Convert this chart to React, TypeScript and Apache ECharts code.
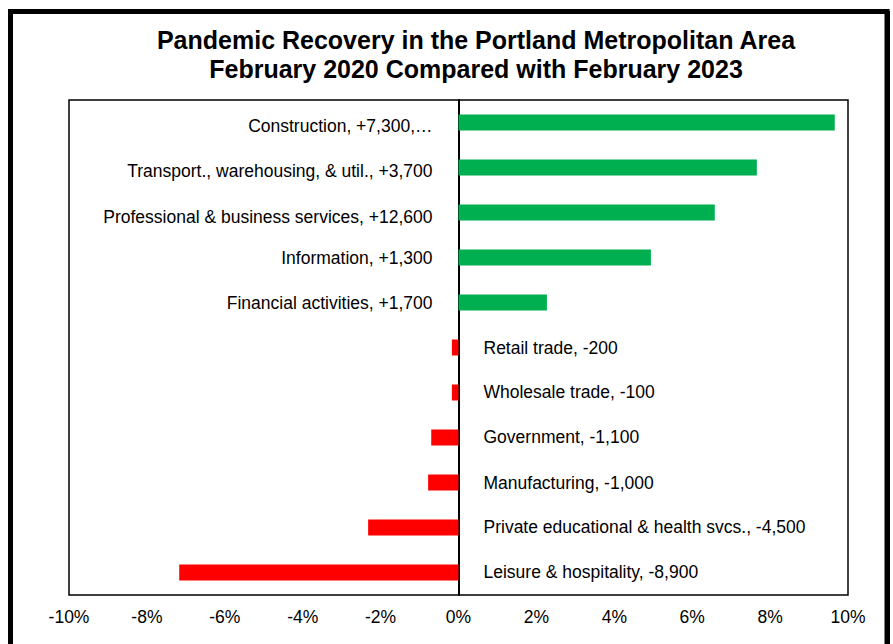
import React, { useEffect, useRef } from "react";
import * as echarts from "echarts";

const categories = [
  "Construction, +7,300,…",
  "Transport., warehousing, & util., +3,700",
  "Professional & business services, +12,600",
  "Information, +1,300",
  "Financial activities, +1,700",
  "Retail trade, -200",
  "Wholesale trade, -100",
  "Government, -1,100",
  "Manufacturing, -1,000",
  "Private educational & health svcs., -4,500",
  "Leisure & hospitality, -8,900",
];
const values = [9.66, 7.66, 6.58, 4.94, 2.27, -0.17, -0.17, -0.7, -0.78, -2.32, -7.17];
const titleLines = [
  "Pandemic Recovery in the Portland Metropolitan Area",
  "February 2020 Compared with February 2023",
];
const xMin = -10;
const xMax = 10;
const xStep = 2;

const FONT = "'Liberation Sans', Arial, sans-serif";
const labelDy = [3, 3, 4, 0, 0, 0, -1, -1, 0, -1, -1];

export default function App() {
  const ref = useRef<HTMLDivElement>(null);
  useEffect(() => {
    if (!ref.current) return;
    const chart = echarts.init(ref.current, null, { renderer: "svg" });
    const data = values.map((v, i) => ({
      value: v,
      itemStyle: { color: v >= 0 ? "#00B050" : "#FF0000" },
      label: {
        show: true,
        position: v >= 0 ? "left" : "right",
        distance: v >= 0 ? 26 : 25,
        offset: [0, labelDy[i]],
        formatter: () => categories[i],
        color: "#000",
        fontSize: 17.5,
        fontFamily: FONT,
      },
    }));
    chart.setOption({
      animation: false,
      backgroundColor: "#fff",
      graphic: [
        {
          type: "rect",
          shape: { x: 10.5, y: 11.5, width: 876.5, height: 700 },
          style: { fill: "none", stroke: "#000", lineWidth: 5 },
          z: 100,
        },
        {
          type: "rect",
          shape: { x: 885, y: 11, width: 5, height: 700 },
          style: { fill: "#000" },
          z: 100,
        },
        ...titleLines.map((t, i) => ({
          type: "text",
          x: 476,
          y: 40 + i * 29,
          style: {
            text: t,
            fontSize: 25,
            fontWeight: "bold",
            fontFamily: FONT,
            fill: "#000",
            align: "center",
            verticalAlign: "middle",
          },
        })),
      ],
      grid: {
        left: 69,
        right: 45,
        top: 100,
        bottom: 49,
        show: true,
        borderColor: "#000",
        borderWidth: 1.5,
        backgroundColor: "transparent",
      },
      xAxis: {
        type: "value",
        min: xMin,
        max: xMax,
        interval: xStep,
        axisLine: { show: false },
        axisTick: { show: false },
        splitLine: { show: false },
        axisLabel: {
          formatter: (v: number) => `${v}%`,
          color: "#000",
          fontSize: 17.5,
          fontFamily: FONT,
          margin: 13,
        },
      },
      yAxis: {
        type: "category",
        data: categories,
        inverse: true,
        axisLabel: { show: false },
        axisTick: { show: false },
        axisLine: { show: true, onZero: true, lineStyle: { color: "#000", width: 2 } },
        splitLine: { show: false },
      },
      series: [
        {
          type: "bar",
          data,
          barWidth: 16,
          z: 1,
        },
      ],
    });
    return () => chart.dispose();
  }, []);
  return <div ref={ref} style={{ width: 893, height: 644, position: "absolute", left: 0, top: 0 }} />;
}
